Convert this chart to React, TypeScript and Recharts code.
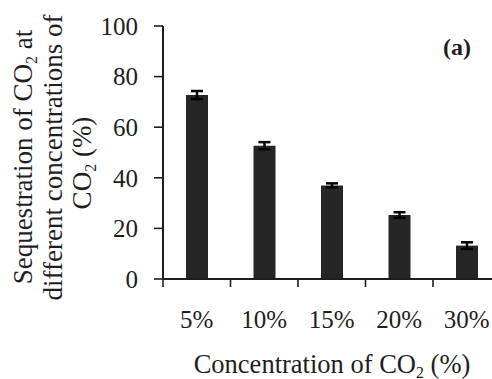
import React from 'react';
import { BarChart, Bar, XAxis, YAxis, ErrorBar, Label, Customized } from 'recharts';

const categories = ['5%', '10%', '15%', '20%', '30%'];
const sequestration = [72.7, 52.7, 37.0, 25.3, 13.2];
const errors = [1.6, 1.4, 0.8, 1.1, 1.3];
const yTicks = [0, 20, 40, 60, 80, 100];

const data = categories.map((c, i) => ({ name: c, value: sequestration[i], err: errors[i] }));

const FONT = '"Liberation Serif", "Times New Roman", serif';
const INK = '#1e1e1e';

const XTick = (props: any) => {
  const { x, y, payload, width, visibleTicksCount, index } = props;
  const band = width && visibleTicksCount ? width / visibleTicksCount : 67.5;
  const left = x - band / 2;
  return (
    <g>
      <line x1={left} y1={y} x2={left} y2={y + 8} stroke={INK} strokeWidth={1.6} />
      {index === visibleTicksCount - 1 && (
        <line x1={x + band / 2} y1={y} x2={x + band / 2} y2={y + 8} stroke={INK} strokeWidth={1.6} />
      )}
      <text x={x} y={y + 49} textAnchor="middle" fontFamily={FONT} fontSize={25} fill={INK}>
        {payload.value}
      </text>
    </g>
  );
};

const YTitle = (props: any) => {
  const vb = props.viewBox || { x: 0, y: 26, width: 163, height: 253 };
  const cy = vb.y + vb.height / 2;
  const lines = [
    { x: 32, dy: 4.5, parts: [['Sequestration of CO', false], ['2', true], [' at', false]] },
    { x: 62, dy: 5, parts: [['different concentrations of', false]] },
    { x: 91, dy: 10.5, parts: [['CO', false], ['2', true], [' (%)', false]] },
  ];
  return (
    <g>
      {lines.map((l, i) => {
        const yy = cy + l.dy;
        return (
          <text
            key={i}
            x={l.x}
            y={yy}
            transform={`rotate(-90, ${l.x}, ${yy})`}
            textAnchor="middle"
            fontFamily={FONT}
            fontSize={27}
            fill={INK}
          >
            {l.parts.map((p, j) =>
              p[1] ? (
                <tspan key={j} fontSize={16} dy={5}>{p[0] as string}</tspan>
              ) : (
                <tspan key={j} dy={j > 0 ? -5 : 0}>{p[0] as string}</tspan>
              )
            )}
          </text>
        );
      })}
    </g>
  );
};

const XTitle = () => {
  return (
    <text x={332} y={372.5} textAnchor="middle" fontFamily={FONT} fontSize={26.5} fill={INK}>
      <tspan>Concentration of CO</tspan>
      <tspan fontSize={16} dy={5}>2</tspan>
      <tspan dy={-5}> (%)</tspan>
    </text>
  );
};

const PanelTag = () => (
  <text x={457} y={55} textAnchor="middle" fontFamily={FONT} fontSize={24} fontWeight="bold" fill={INK}>
    (a)
  </text>
);

export default function App() {
  return (
    <div
      style={{
        position: 'fixed',
        left: 0,
        top: 0,
        width: 492,
        height: 379,
        overflow: 'hidden',
        background: '#fff',
      }}
    >
      <BarChart
        width={508}
        height={379}
        data={data}
        margin={{ top: 26, right: 7.5, left: 0, bottom: 60 }}
      >
        <XAxis
          dataKey="name"
          height={40}
          axisLine={{ stroke: INK, strokeWidth: 2 }}
          tickLine={false}
          tickSize={0}
          tickMargin={0}
          tick={<XTick />}
          interval={0}
        >
          <Label content={<XTitle />} />
        </XAxis>
        <YAxis
          width={163}
          domain={[0, 100]}
          ticks={yTicks}
          interval={0}
          axisLine={{ stroke: INK, strokeWidth: 2 }}
          tickLine={{ stroke: INK, strokeWidth: 1.6 }}
          tickSize={9}
          tickMargin={16}
          tick={{ fontFamily: FONT, fontSize: 25, fill: INK }}
        >
          <Label content={<YTitle />} />
        </YAxis>
        <Bar dataKey="value" fill="#262626" barSize={22} isAnimationActive={false}>
          <ErrorBar dataKey="err" width={6} strokeWidth={2.5} stroke="#000" isAnimationActive={false} />
        </Bar>
        <Customized component={<PanelTag />} />
      </BarChart>
    </div>
  );
}
